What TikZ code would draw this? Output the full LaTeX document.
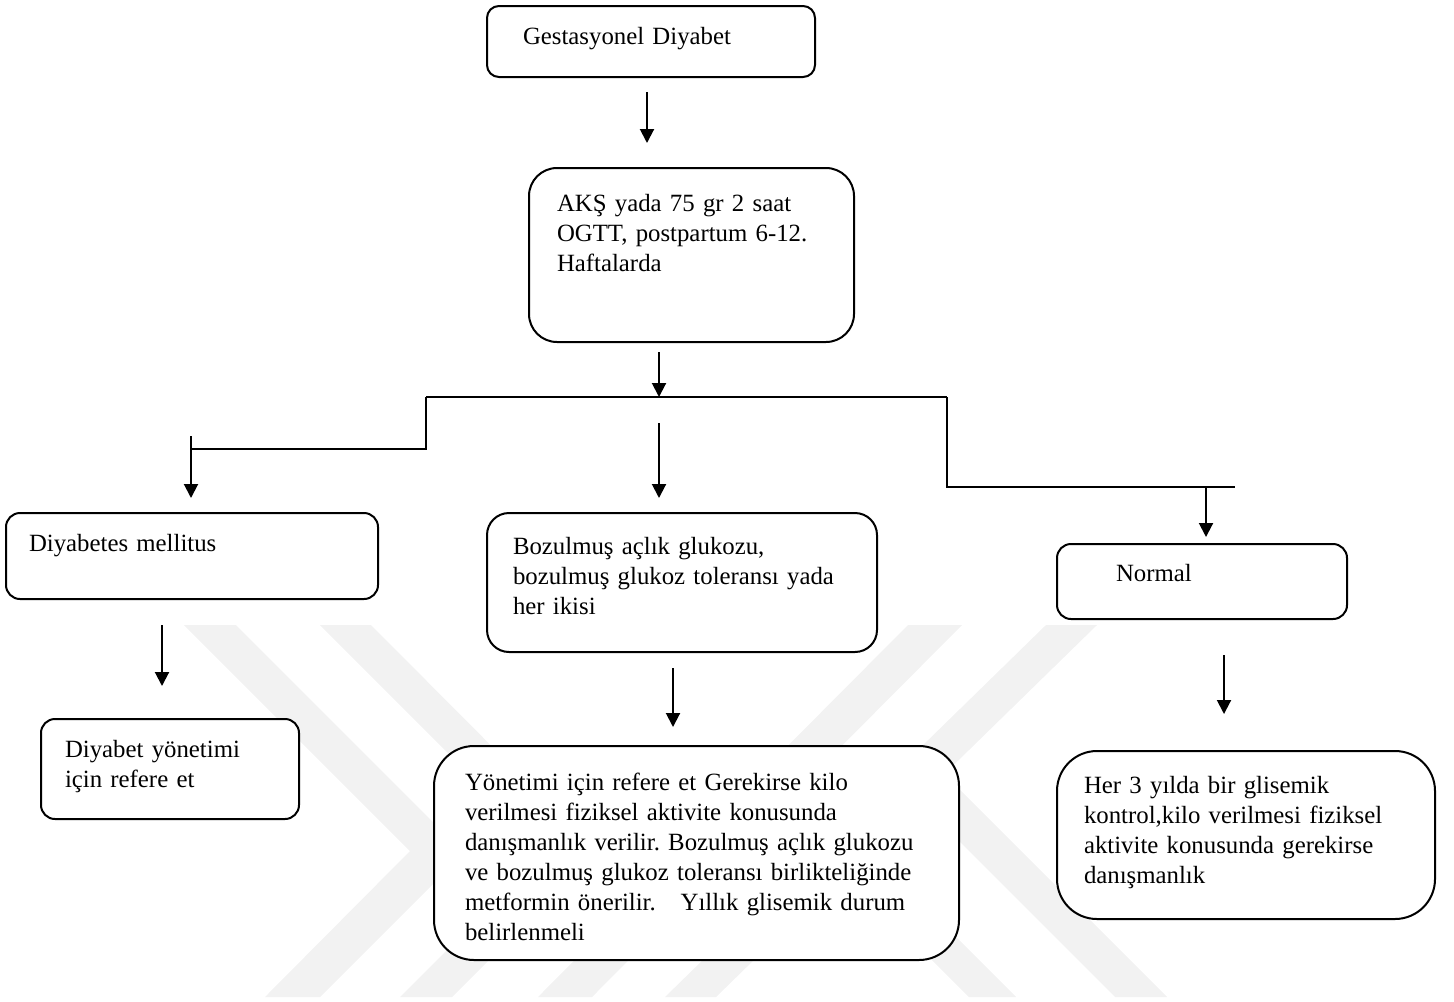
\documentclass[tikz,border=0pt]{standalone}
\usepackage{fontspec}
\setmainfont{Liberation Serif}
\usetikzlibrary{arrows.meta}

\begin{document}
\begin{tikzpicture}[x=0.5pt,y=-0.5pt,>={Stealth[length=7pt,width=7pt,inset=0pt]},line width=1pt,
  box/.style={draw,fill=white,anchor=north west,align=left,inner ysep=0pt,font=\fontsize{12.4}{15}\selectfont\frenchspacing},
  logo/.style={fill=black!5,draw=none}]

            \useasboundingbox (0,0) rectangle (1454,1001);

            \fill[logo] (184,625) -- (236,625) -- (464,853) -- (320,997) -- (265,997) -- (410,851) -- cycle;
            \fill[logo] (320,625) -- (371,625) -- (597,852) -- (452,997) -- (400,997) -- (546,851) -- cycle;
            \fill[logo] (908,625) -- (962,625) -- (592,997) -- (538,997) -- cycle;
            \fill[logo] (1046,625) -- (1097,625) -- (716,997) -- (665,997) -- cycle;
            \fill[logo] (803,784) -- (1016,997) -- (969,997) -- (779,807) -- cycle;
            \fill[logo] (946,776) -- (1167,997) -- (1115,997) -- (920,802) -- cycle;

            \node[box,rounded corners=6pt,inner xsep=18pt,text width=128pt,text height=19pt,text depth=16.5pt] (1) at (486,5) {Gestasyonel Diyabet};
            \node[box,rounded corners=14pt,inner xsep=14pt,text width=134.5pt,text height=21.5pt,text depth=65.5pt] (2) at (528,167) {AKŞ yada 75 gr 2 saat\\OGTT, postpartum 6-12.\\Haftalarda};
            \node[box,rounded corners=7pt,inner xsep=11.5pt,text width=163pt,text height=19pt,text depth=24pt] (3) at (5,512) {Diyabetes mellitus};
            \node[box,rounded corners=11pt,inner xsep=13pt,text width=169pt,text height=20.5pt,text depth=49pt] (4) at (486,512) {Bozulmuş açlık glukozu,\\bozulmuş glukoz toleransı yada\\her ikisi};
            \node[box,rounded corners=7pt,inner xsep=29.5pt,text width=86pt,text height=18.5pt,text depth=19pt] (5) at (1056,543) {Normal};
            \node[box,rounded corners=7pt,inner xsep=12pt,text width=105pt,text height=19pt,text depth=31pt] (6) at (40,718) {Diyabet yönetimi\\için refere et};
            \node[box,rounded corners=20pt,inner xsep=15.5pt,text width=231.5pt,text height=22pt,text depth=85pt] (7) at (433,745) {Yönetimi için refere et Gerekirse kilo\\verilmesi fiziksel aktivite konusunda\\danışmanlık verilir. Bozulmuş açlık glukozu\\ve bozulmuş glukoz toleransı birlikteliğinde\\metformin önerilir.\ \ \ Yıllık glisemik durum\\belirlenmeli};
            \node[box,rounded corners=20pt,inner xsep=13.5pt,text width=162pt,text height=21pt,text depth=63pt] (8) at (1056,750) {Her 3 yılda bir glisemik\\kontrol,kilo verilmesi fiziksel\\aktivite konusunda gerekirse\\danışmanlık};

            \coordinate (a1) at (647,92);
            \coordinate (a2) at (659,352);
            \coordinate (b1) at (426,397);
            \coordinate (b2) at (947,397);
            \coordinate (c1) at (191,436);
            \coordinate (c2) at (191,449);
            \coordinate (c3) at (659,423);
            \coordinate (c4) at (1235,487);
            \coordinate (c5) at (1206,487);
            \coordinate (d1) at (162,625);
            \coordinate (d2) at (673,668);
            \coordinate (d3) at (1224,655);

            \draw[->,shorten >=12pt] (a1) to (a1 |- 2.north);
            \draw[->] (a2) to (a2 |- b1);
            \draw[-] (b1) to (b2);
            \draw[-] (b1) |- (c2);
            \draw[-] (b2) |- (c4);
            \draw[->,shorten >=7pt] (c1) to (c1 |- 3.north);
            \draw[->,shorten >=7pt] (c3) to (c3 |- 4.north);
            \draw[->,shorten >=3pt] (c5) to (c5 |- 5.north);
            \draw[->,shorten >=16pt] (d1) to (d1 |- 6.north);
            \draw[->,shorten >=9pt] (d2) to (d2 |- 7.north);
            \draw[->,shorten >=18pt] (d3) to (d3 |- 8.north);

            ;
        \end{tikzpicture}
\end{document}
